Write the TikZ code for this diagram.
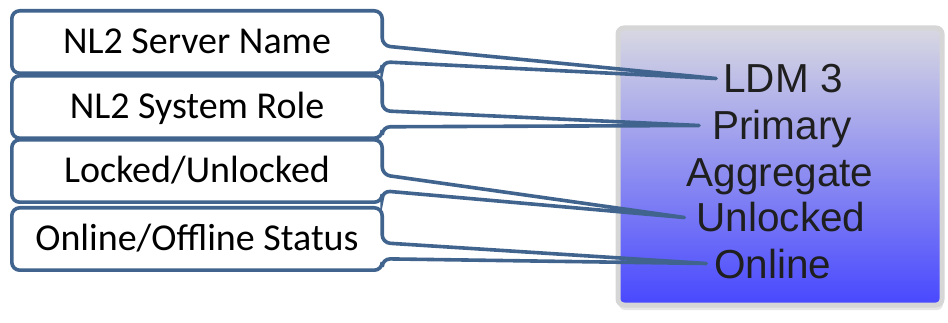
\documentclass[tikz,border=0pt]{standalone}
\usepackage{fontspec}
\setmainfont{Carlito}
\newfontfamily\tilefont{Liberation Sans}
\usetikzlibrary{shadows}

\definecolor{calloutblue}{RGB}{64,100,142}
\definecolor{tileframe}{RGB}{214,214,214}
\definecolor{tiletop}{RGB}{216,216,226}
\definecolor{tilebottom}{RGB}{72,72,255}

\begin{document}
\begin{tikzpicture}[x=1pt,y=-1pt,
  field/.style={minimum width=370pt,minimum height=62pt,inner sep=0pt,text height=24pt,text depth=0pt,font=\fontsize{38}{41}\selectfont},
  callout/.style={draw=calloutblue,line width=3.6pt,rounded corners=8pt,line cap=round},
  tile/.style={minimum width=324pt,minimum height=277pt,draw=tileframe,line width=5pt,rounded corners=6pt,top color=tiletop,bottom color=tilebottom,drop shadow={shadow xshift=1pt,shadow yshift=-5pt,opacity=.2}},
  value/.style={anchor=base,inner sep=0pt,text height=29pt,text depth=0pt,text=black!88,font=\tilefont\fontsize{40.5}{44}\selectfont}]
\useasboundingbox (0,0) rectangle (948,323);

\node[tile] (tile) at (780,166.5) {};

\node[value] (ldm) at (783,93) {LDM 3};
\node[value] (prim) at (782,140) {Primary};
\node[value] (aggr) at (780,187) {Aggregate};
\node[value] (unl) at (781,232) {Unlocked};
\node[value] (onl) at (773,278) {Online};

\node[field] (srv) at (197,42) {NL2 Server Name};
\node[field] (role) at (197,107) {NL2 System Role};
\node[field] (lock) at (197,171) {Locked/Unlocked};
\node[field] (stat) at (197,239) {Online/Offline Status};

\draw[callout] ([xshift=-7pt]ldm.west) -- ([yshift=-51pt]srv.north east) -- (srv.south east) -- (srv.south west) -- (srv.north west) -- (srv.north east) -- ([yshift=-35pt]srv.north east) -- ([xshift=-7pt]ldm.west);
\draw[callout] ([xshift=-13pt]prim.west) -- ([yshift=-51pt]role.north east) -- (role.south east) -- (role.south west) -- (role.north west) -- (role.north east) -- ([yshift=-35pt]role.north east) -- ([xshift=-13pt]prim.west);
\draw[callout] ([xshift=-12pt]unl.west) -- ([yshift=-51pt]lock.north east) -- (lock.south east) -- (lock.south west) -- (lock.north west) -- (lock.north east) -- ([yshift=-35pt]lock.north east) -- ([xshift=-12pt]unl.west);
\draw[callout] ([xshift=-8pt]onl.west) -- ([yshift=-51pt]stat.north east) -- (stat.south east) -- (stat.south west) -- (stat.north west) -- (stat.north east) -- ([yshift=-35pt]stat.north east) -- ([xshift=-8pt]onl.west);

\end{tikzpicture}
\end{document}
